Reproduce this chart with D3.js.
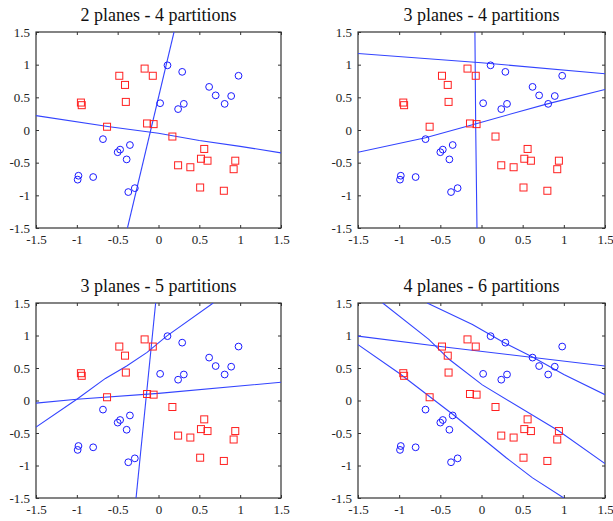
<!DOCTYPE html>
<html>
<head>
<meta charset="utf-8">
<script src="https://cdn.jsdelivr.net/npm/d3@7"></script>
<style>
  html, body { margin: 0; padding: 0; background: #fff; }
  svg { display: block; }
  svg text { font-family: "Liberation Serif", "Tinos", "Times New Roman", "DejaVu Serif", serif; }
</style>
</head>
<body>
<svg id="chart" width="613" height="521"></svg>
<script>
// Class A samples (blue circles)
const circleX = [0.11, 0.29, 0.98, 0.62, 0.70, 0.89, 0.81, 0.02, 0.31, 0.24,
                 -0.68, -0.35, -0.47, -0.50, -0.39, -0.98, -0.99, -0.80, -0.37, -0.29];
const circleY = [0.99, 0.89, 0.83, 0.66, 0.53, 0.52, 0.40, 0.41, 0.40, 0.32,
                 -0.14, -0.23, -0.30, -0.34, -0.45, -0.70, -0.76, -0.72, -0.95, -0.89];

// Class B samples (red squares)
const squareX = [-0.17, -0.07, -0.48, -0.41, -0.40, -0.95, -0.94, -0.63, -0.14, -0.06,
                 0.17, 0.56, 0.52, 0.60, 0.24, 0.39, 0.94, 0.92, 0.51, 0.80];
const squareY = [0.94, 0.83, 0.83, 0.69, 0.43, 0.42, 0.38, 0.05, 0.10, 0.09,
                 -0.10, -0.29, -0.44, -0.47, -0.54, -0.57, -0.47, -0.60, -0.88, -0.93];

const titles = ["2 planes - 4 partitions", "3 planes - 4 partitions",
                "3 planes - 5 partitions", "4 planes - 6 partitions"];

const tickValues = [-1.5, -1, -0.5, 0, 0.5, 1, 1.5];
const tickLabels = ["-1.5", "-1", "-0.5", "0", "0.5", "1", "1.5"];

// Separating planes for each panel, as polylines of [x, y]
const planes2of4 = [
  [[-1.5, 0.22], [-0.6, 0.05], [0, -0.05], [0.5, -0.16], [1.0, -0.25], [1.5, -0.35]],
  [[0.19, 1.5], [-0.38, -1.5]]
];
const planes3of4 = [
  [[-1.5, 1.17], [0, 1.03], [1.5, 0.86]],
  [[-1.5, -0.34], [-0.68, -0.12], [0, 0.12], [0.8, 0.40], [1.5, 0.62]],
  [[-0.08, 1.5], [-0.07, 0], [-0.055, -1.5]]
];
const planes3of5 = [
  [[-1.5, -0.04], [-1.0, 0.02], [0, 0.11], [1.5, 0.28]],
  [[-1.5, -0.41], [-1.0, 0.02], [-0.65, 0.34], [-0.39, 0.53], [-0.14, 0.74], [0.1, 0.99], [0.67, 1.5]],
  [[-0.035, 1.5], [-0.275, -1.5]]
];
const planes4of6 = [
  [[-1.5, 0.99], [-0.5, 0.83], [1.5, 0.53]],
  [[-0.66, 1.5], [-0.11, 1.17], [0.26, 0.9], [0.62, 0.67], [1.0, 0.4], [1.5, 0.09]],
  [[-1.2, 1.5], [-0.64, 0.94], [-0.39, 0.63], [0.01, 0.24], [0.94, -0.47], [1.5, -0.97]],
  [[-1.5, 0.86], [-1.0, 0.42], [-0.33, -0.23], [0.3, -0.88], [0.62, -1.19], [1.0, -1.5]]
];
const planeSets = [planes2of4, planes3of4, planes3of5, planes4of6];

// Plot-area boxes for the 2x2 grid
const panels = [
  { left: 36, right: 281, top: 32, bottom: 228 },
  { left: 358, right: 605, top: 32, bottom: 228 },
  { left: 36, right: 281, top: 303, bottom: 498 },
  { left: 358, right: 605, top: 303, bottom: 498 }
];

const svg = d3.select("#chart");

panels.forEach((p, i) => {
  const x = d3.scaleLinear().domain([-1.5, 1.5]).range([p.left, p.right]);
  const y = d3.scaleLinear().domain([-1.5, 1.5]).range([p.bottom, p.top]);
  const g = svg.append("g");

  const clipId = "clip" + i;
  g.append("clipPath").attr("id", clipId)
    .append("rect")
    .attr("x", p.left).attr("y", p.top)
    .attr("width", p.right - p.left).attr("height", p.bottom - p.top);

  // Title
  g.append("text")
    .attr("x", (p.left + p.right) / 2)
    .attr("y", p.top - 11)
    .attr("text-anchor", "middle")
    .style("font-size", "18px")
    .attr("fill", "#111")
    .text(titles[i]);

  // Axes with inward ticks (bottom/left labelled, top/right mirrored)
  const fmt = (d) => tickLabels[tickValues.indexOf(d)];
  const styleAxis = (sel) => {
    sel.attr("font-family", null);
    sel.select(".domain").remove();
    sel.selectAll(".tick line").attr("stroke", "#333");
    sel.selectAll(".tick text").attr("fill", "#222").style("font-size", "13px");
  };
  g.append("g").attr("transform", `translate(0,${p.bottom})`)
    .call(d3.axisBottom(x).tickValues(tickValues).tickFormat(fmt).tickSizeInner(-3).tickSizeOuter(0).tickPadding(7))
    .call(styleAxis);
  g.append("g").attr("transform", `translate(${p.left},0)`)
    .call(d3.axisLeft(y).tickValues(tickValues).tickFormat(fmt).tickSizeInner(-3).tickSizeOuter(0).tickPadding(6))
    .call(styleAxis);
  g.append("g").attr("transform", `translate(0,${p.top})`)
    .call(d3.axisTop(x).tickValues(tickValues).tickFormat("").tickSizeInner(-3).tickSizeOuter(0))
    .call(styleAxis);
  g.append("g").attr("transform", `translate(${p.right},0)`)
    .call(d3.axisRight(y).tickValues(tickValues).tickFormat("").tickSizeInner(-3).tickSizeOuter(0))
    .call(styleAxis);

  // Frame
  g.append("rect")
    .attr("x", p.left).attr("y", p.top)
    .attr("width", p.right - p.left).attr("height", p.bottom - p.top)
    .attr("fill", "none").attr("stroke", "#333").attr("stroke-width", 1.2);

  // Planes
  const line = d3.line().x(d => x(d[0])).y(d => y(d[1]));
  g.append("g").attr("clip-path", `url(#${clipId})`)
    .selectAll("path").data(planeSets[i]).join("path")
    .attr("d", line)
    .attr("fill", "none").attr("stroke", "#3344ff").attr("stroke-width", 1.1);

  // Samples
  g.append("g").selectAll("circle").data(d3.range(circleX.length)).join("circle")
    .attr("cx", k => x(circleX[k])).attr("cy", k => y(circleY[k]))
    .attr("r", 3.4)
    .attr("fill", "none").attr("stroke", "#1a1aff").attr("stroke-width", 1);

  const s = 7;
  g.append("g").selectAll("rect").data(d3.range(squareX.length)).join("rect")
    .attr("x", k => x(squareX[k]) - s / 2).attr("y", k => y(squareY[k]) - s / 2)
    .attr("width", s).attr("height", s)
    .attr("fill", "none").attr("stroke", "#ff2020").attr("stroke-width", 1);
});
</script>
</body>
</html>
